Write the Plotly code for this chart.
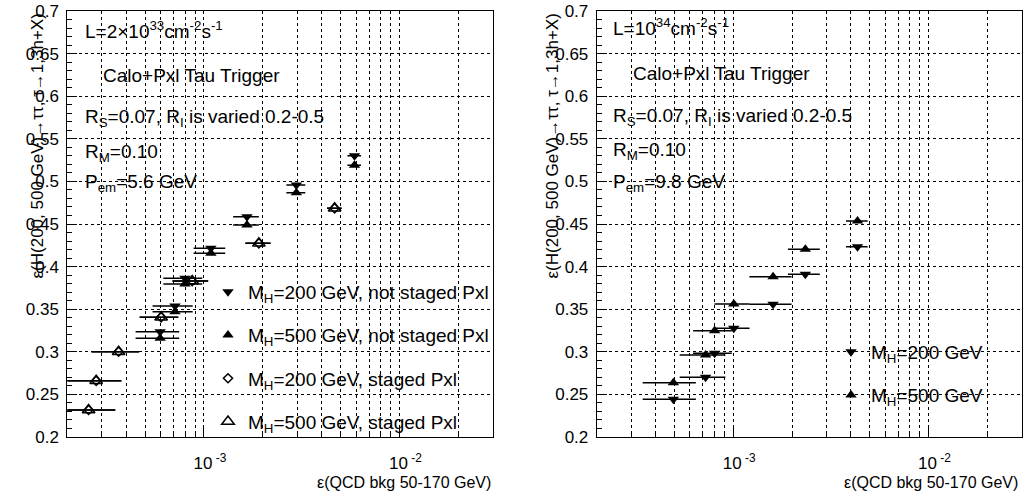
import numpy as np
import plotly.graph_objects as go

# ---------------- data ----------------
# Left panel: L = 2x10^33, not staged pixel (shared background efficiency)
ns_x = [5.97e-4, 7.11e-4, 8.0e-4, 1.085e-3, 1.66e-3, 2.97e-3, 5.89e-3]
ns_ex = [1.5e-4, 1.65e-4, 1.8e-4, 2.0e-4, 2.5e-4, 3.3e-4, 4.7e-4]
ns200_y = [0.3236, 0.3538, 0.3863, 0.4215, 0.4586, 0.4958, 0.530]
ns500_y = [0.3158, 0.3471, 0.3796, 0.4156, 0.4488, 0.4867, 0.519]
# Left panel: staged pixel
st_x = [2.57e-4, 2.81e-4, 3.66e-4, 6.04e-4, 8.71e-4, 1.91e-3, 4.66e-3]
st_ex = [0.95e-4, 0.97e-4, 1.0e-4, 1.35e-4, 1.8e-4, 2.8e-4, 4.0e-4]
st200_y = [0.2317, 0.2660, 0.3001, 0.3405, 0.3830, 0.4273, 0.4684]
st500_y = [0.2317, 0.2660, 0.3001, 0.3405, 0.3830, 0.4273, 0.4684]
# Right panel: L = 10^34
r_x = [4.94e-4, 7.22e-4, 8.03e-4, 1.007e-3, 1.60e-3, 2.34e-3, 4.33e-3]
r_ex = [1.5e-4, 1.9e-4, 1.8e-4, 2.05e-4, 3.9e-4, 4.35e-4, 5.5e-4]
r200_y = [0.2442, 0.2701, 0.2982, 0.3276, 0.3557, 0.3909, 0.4234]
r500_y = [0.2637, 0.2962, 0.3248, 0.3561, 0.3881, 0.4203, 0.4535]

# axis ticks
x_major = [1e-3, 1e-2]
x_major_text = ["10<sup> -3</sup>", "10<sup> -2</sup>"]
x_minor = [3e-4, 4e-4, 5e-4, 6e-4, 7e-4, 8e-4, 9e-4,
           2e-3, 3e-3, 4e-3, 5e-3, 6e-3, 7e-3, 8e-3, 9e-3, 2e-2]
y_major = [0.2, 0.25, 0.3, 0.35, 0.4, 0.45, 0.5, 0.55, 0.6, 0.65, 0.7]
y_major_text = ["0.2", "0.25", "0.3", "0.35", "0.4", "0.45", "0.5", "0.55", "0.6", "0.65", "0.7"]
x_range = [2e-4, 3e-2]
y_range = [0.2, 0.7]

# ---------------- layout helpers ----------------
W, H = 1025, 496
FONT = "Liberation Sans, Arial, Helvetica, sans-serif"


def px(x):
    return x / W


def py(y):
    return (H - y) / H


def xaxis(domain):
    return dict(
        type="log", domain=domain, automargin=False,
        range=[np.log10(x_range[0]), np.log10(x_range[1])],
        tickmode="array", tickvals=x_major, ticktext=x_major_text,
        ticks="inside", ticklen=10, tickcolor="black", tickwidth=1,
        showline=True, mirror=True, linecolor="black", linewidth=1,
        showgrid=True, gridcolor="black", griddash="dot", gridwidth=1,
        zeroline=False, tickfont=dict(size=17, color="black", family=FONT),
        ticklabelstandoff=11, ticklabelshift=6,
        minor=dict(tickmode="array", tickvals=x_minor, ticks="inside", ticklen=5,
                   tickcolor="black", showgrid=True, gridcolor="black",
                   griddash="dot", gridwidth=1),
    )


def yaxis(domain, anchor):
    return dict(
        domain=domain, anchor=anchor, range=y_range, automargin=False,
        tickmode="array", tickvals=y_major, ticktext=y_major_text,
        ticks="inside", ticklen=10, tickcolor="black", tickwidth=1,
        showline=True, mirror=True, linecolor="black", linewidth=1,
        showgrid=True, gridcolor="black", griddash="dot", gridwidth=1,
        zeroline=False, tickfont=dict(size=17, color="black", family=FONT),
        ticklabelstandoff=4,
        minor=dict(dtick=0.01, ticks="inside", ticklen=5, tickcolor="black", showgrid=False),
    )


def err(ex):
    return dict(type="data", array=ex, symmetric=True, color="black", thickness=1.5, width=0)


fig = go.Figure()

fig.add_trace(go.Scatter(
    x=ns_x, y=ns200_y, mode="markers", error_x=err(ns_ex),
    marker=dict(symbol="triangle-down", size=10, color="black"),
    name="M<sub>H</sub>=200 GeV, not staged Pxl", legendgroup="a", legend="legend",
    xaxis="x", yaxis="y"))
fig.add_trace(go.Scatter(
    x=ns_x, y=ns500_y, mode="markers", error_x=err(ns_ex),
    marker=dict(symbol="triangle-up", size=10, color="black"),
    name="M<sub>H</sub>=500 GeV, not staged Pxl", legendgroup="b", legend="legend",
    xaxis="x", yaxis="y"))
fig.add_trace(go.Scatter(
    x=st_x, y=st200_y, mode="markers", error_x=err(st_ex),
    marker=dict(symbol="diamond-open", size=7, color="black", line=dict(width=1.5)),
    name="M<sub>H</sub>=200 GeV, staged Pxl", legendgroup="c", legend="legend",
    xaxis="x", yaxis="y"))
fig.add_trace(go.Scatter(
    x=st_x, y=st500_y, mode="markers", error_x=err(st_ex),
    marker=dict(symbol="triangle-up-open", size=11, color="black", line=dict(width=1.5)),
    name="M<sub>H</sub>=500 GeV, staged Pxl", legendgroup="d", legend="legend",
    xaxis="x", yaxis="y"))

fig.add_trace(go.Scatter(
    x=r_x, y=r200_y, mode="markers", error_x=err(r_ex),
    marker=dict(symbol="triangle-down", size=10, color="black"),
    name="M<sub>H</sub>=200 GeV", legendgroup="e", legend="legend2",
    xaxis="x2", yaxis="y2"))
fig.add_trace(go.Scatter(
    x=r_x, y=r500_y, mode="markers", error_x=err(r_ex),
    marker=dict(symbol="triangle-up", size=10, color="black"),
    name="M<sub>H</sub>=500 GeV", legendgroup="f", legend="legend2",
    xaxis="x2", yaxis="y2"))

ydom = [py(437), py(11)]
fig.update_layout(
    width=W, height=H, margin=dict(l=0, r=0, t=0, b=0, autoexpand=False),
    paper_bgcolor="white", plot_bgcolor="white",
    font=dict(family=FONT, color="black", size=17),
    xaxis=xaxis([px(67.3), px(492.7)]) | dict(anchor="y"),
    yaxis=yaxis(ydom, "x"),
    xaxis2=xaxis([px(596.7), px(1021.7)]) | dict(anchor="y2"),
    yaxis2=yaxis(ydom, "x2"),
    legend=dict(x=px(208), y=py(273), xanchor="left", yanchor="top",
                bgcolor="rgba(0,0,0,0)", font=dict(size=19, family=FONT),
                tracegroupgap=15.5),
    legend2=dict(x=px(831), y=py(333), xanchor="left", yanchor="top",
                 bgcolor="rgba(0,0,0,0)", font=dict(size=19, family=FONT),
                 tracegroupgap=15.5),
)

notes_left = [
    ("L=2×10<sup>33</sup>cm<sup>-2</sup>s<sup>-1</sup>", 83, 30),
    ("Calo+Pxl Tau Trigger", 101, 75),
    ("R<sub>S</sub>=0.07, R<sub>I</sub> is varied 0.2-0.5", 83, 118),
    ("R<sub>M</sub>=0.10", 83, 153),
    ("P<sub>em</sub>=5.6 GeV", 83, 183),
]
notes_right = [
    ("L=10<sup>34</sup>cm<sup>-2</sup>s<sup>-1</sup>", 611, 27),
    ("Calo+Pxl Tau Trigger", 631, 73),
    ("R<sub>S</sub>=0.07, R<sub>I</sub> is varied 0.2-0.5", 611, 117),
    ("R<sub>M</sub>=0.10", 611, 151),
    ("P<sub>em</sub>=9.8 GeV", 611, 183),
]
for txt, xx, yy in notes_left + notes_right:
    fig.add_annotation(text=txt, x=px(xx), y=py(yy), xref="paper", yref="paper",
                       xanchor="left", yanchor="middle", showarrow=False,
                       font=dict(size=19, family=FONT, color="black"))

xtitle = "ε(QCD bkg 50-170 GeV)"
ytitle = "ε(H(200, 500 GeV)→ττ, τ→1,3h+X)"
for xr in (493, 1020):
    fig.add_annotation(text=xtitle, x=px(xr), y=py(482), xref="paper", yref="paper",
                       xanchor="right", yanchor="middle", showarrow=False,
                       font=dict(size=16, family=FONT, color="black"))
for xc in (37, 552):
    fig.add_annotation(text=ytitle, x=px(xc), y=py(12), xref="paper", yref="paper",
                       xanchor="center", yanchor="top", textangle=-90, showarrow=False,
                       font=dict(size=17, family=FONT, color="black"))

fig.write_html(
    "out.html",
    config={"displayModeBar": False},
    post_script="document.body.style.margin='0';document.body.style.overflow='hidden';",
)
